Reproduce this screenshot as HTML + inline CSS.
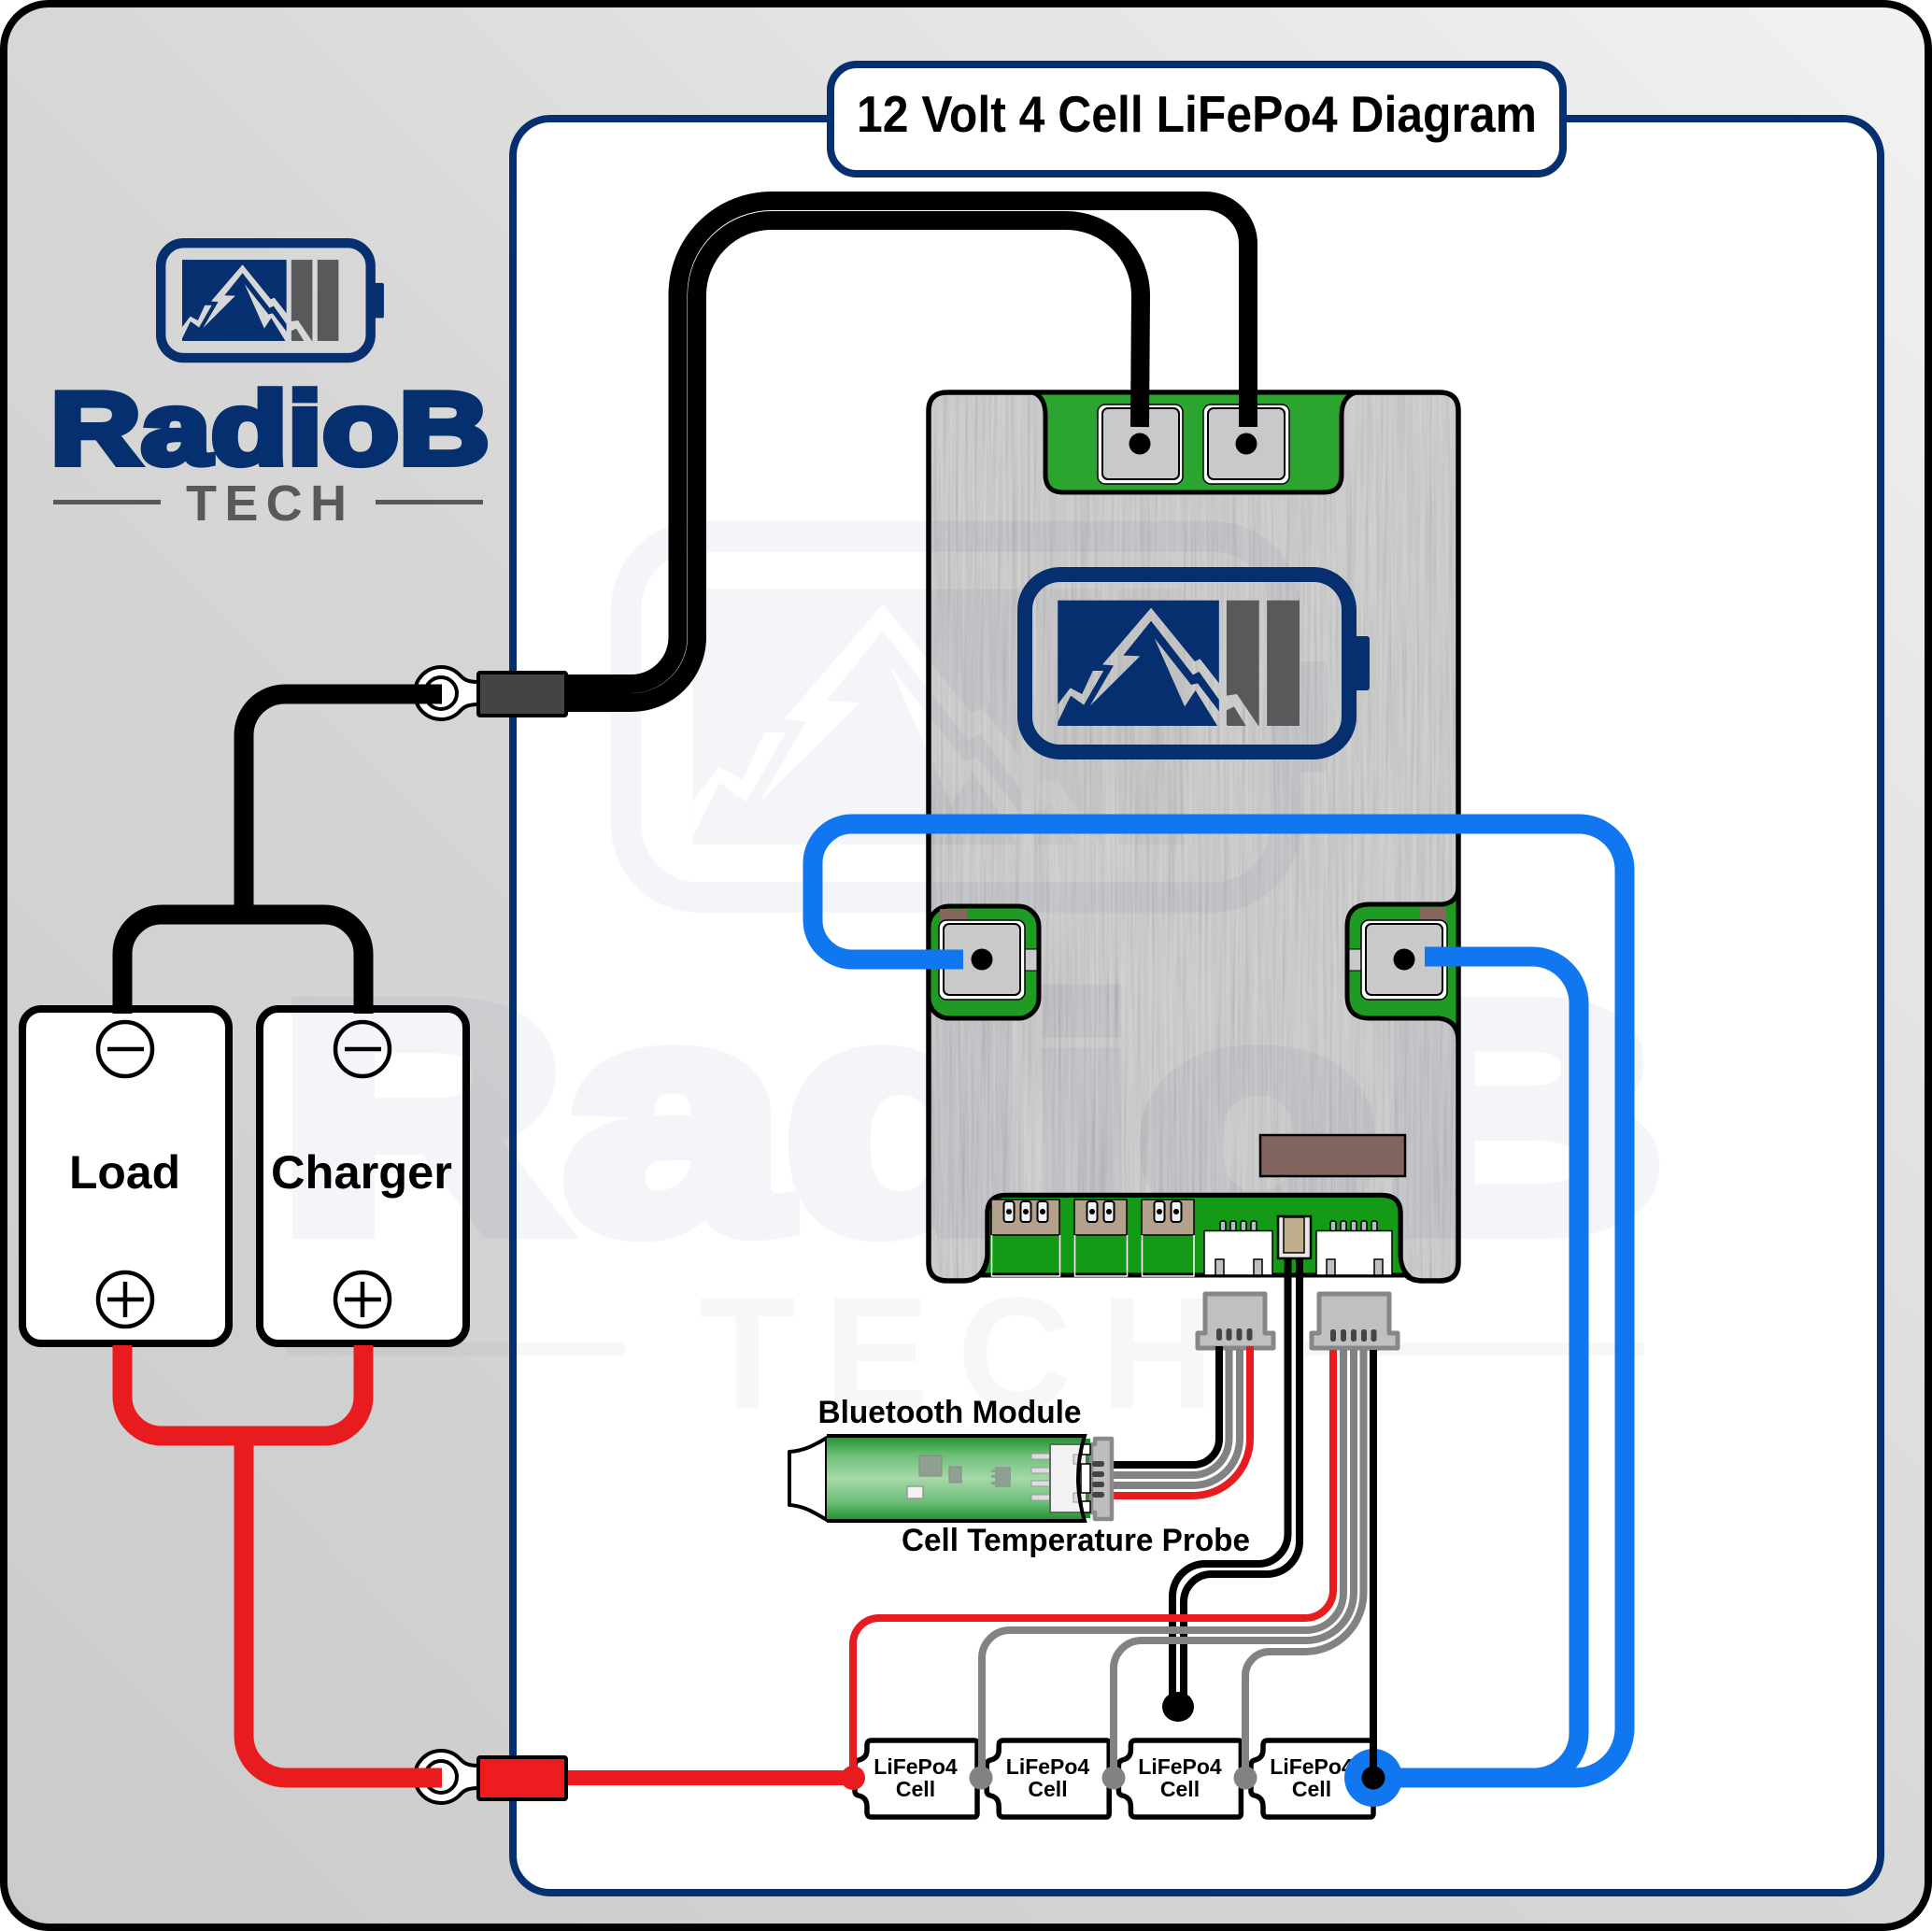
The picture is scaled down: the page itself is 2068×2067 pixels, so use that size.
<!DOCTYPE html>
<html><head><meta charset="utf-8"><title>12 Volt 4 Cell LiFePo4 Diagram</title>
<style>
html,body{margin:0;padding:0;background:#fff}
svg{display:block}
text{font-family:"Liberation Sans",sans-serif;font-weight:bold;fill:#000}
</style></head><body>
<svg xmlns="http://www.w3.org/2000/svg" width="2068" height="2067" viewBox="0 0 2068 2067">
<defs>
<linearGradient id="bg" gradientUnits="userSpaceOnUse" x1="0" y1="2067" x2="2068" y2="0"><stop offset="0" stop-color="#cbcbcb"/><stop offset=".5" stop-color="#d7d7d7"/><stop offset="1" stop-color="#f2f2f2"/></linearGradient>
<linearGradient id="bt" x1="0" y1="0" x2="0" y2="1"><stop offset="0" stop-color="#1c8f2a"/><stop offset=".22" stop-color="#6dbd77"/><stop offset=".5" stop-color="#a6d9a9"/><stop offset=".78" stop-color="#6dbd77"/><stop offset="1" stop-color="#1c8f2a"/></linearGradient>
<filter id="brush" x="0" y="0" width="1" height="1"><feTurbulence type="fractalNoise" baseFrequency="0.3 0.006" numOctaves="3" seed="4"/><feColorMatrix values="1.6 0 0 0 -.2 1.6 0 0 0 -.2 1.6 0 0 0 -.2 0 0 0 0 .13"/></filter>
<clipPath id="bodyclip"><path d="M1014,420H1541Q1561,420 1561,440V1351Q1561,1371 1541,1371H1523Q1501,1371 1499,1350V1299Q1499,1279.500 1479,1279.500H1077Q1057,1279.500 1057,1299V1345Q1053,1371 1031,1371H1014Q994,1371 994,1351V440Q994,420 1014,420Z"/></clipPath>
<mask id="cut" maskUnits="userSpaceOnUse" x="-10" y="-10" width="400" height="230">
<rect x="-10" y="-10" width="400" height="230" fill="#fff"/>
<g transform="scale(.3827,.3333) translate(-284,-622)" fill="#000">
<polygon points="658,753 780,925 795,917 848,995 869,1035 898,1030 960,1135 925,1135 890,1070 869,1082 848,1048 792,958 775,968 658,795 580,906 627,908 487,1068 553,938 522,935"/>
<polygon points="667,850 770,1000 788,995 848,1085 873,1135 845,1135 782,1018 752,1070"/>
<polygon points="397,1063 432,1010 465,1030 495,955 525,955 470,1065 433,1035 397,1120"/>
</g></mask>
<g id="mark">
<rect x="8" y="8" width="347" height="190" rx="38" fill="none" stroke="#052f6f" stroke-width="16"/>
<rect x="358" y="74" width="19" height="58" rx="3" fill="#052f6f"/>
<g mask="url(#cut)"><g transform="scale(.3827,.3333) translate(-284,-622)">
<rect x="397" y="729" width="451" height="403" fill="#052f6f"/>
<rect x="869" y="729" width="91" height="403" fill="#58595b"/>
<rect x="982" y="729" width="91" height="403" fill="#58595b"/>
</g></g>
</g>
<path id="cell" d="M933,1863H1043Q1046,1863 1046,1866V1941Q1046,1945 1043,1945H933Q928,1945 928,1940V1934Q928,1924 919,1922Q915,1921 915,1917V1890Q915,1885 919,1884Q928,1882 928,1873V1868Q928,1863 933,1863Z" fill="#fff" stroke="#000" stroke-width="5.500" stroke-linejoin="round"/>
</defs>

<rect width="2068" height="2067" fill="#fff"/>
<rect x="4" y="4" width="2060" height="2059" rx="48" fill="url(#bg)" stroke="#000" stroke-width="8"/>
<rect x="549" y="127" width="1464" height="1899" rx="40" fill="#fff" stroke="#052f6f" stroke-width="8"/>

<!-- load / charger boxes -->
<rect x="24" y="1080" width="221" height="358" rx="20" fill="#fff" stroke="#000" stroke-width="8"/>
<rect x="278" y="1080" width="221" height="358" rx="20" fill="#fff" stroke="#000" stroke-width="8"/>

<!-- BMS body -->
<g clip-path="url(#bodyclip)"><rect x="990" y="415" width="575" height="960" fill="#c9c9c9"/><rect x="990" y="415" width="575" height="960" filter="url(#brush)"/></g>
<path d="M1014,420H1541Q1561,420 1561,440V1351Q1561,1371 1541,1371H1523Q1501,1371 1499,1350V1299Q1499,1279.500 1479,1279.500H1077Q1057,1279.500 1057,1299V1345Q1053,1371 1031,1371H1014Q994,1371 994,1351V440Q994,420 1014,420Z" fill="none" stroke="#000" stroke-width="5.500"/>

<!-- watermark -->
<g opacity=".05">
<use href="#mark" transform="translate(654,558) scale(2.033)"/>
<text x="298" y="1315" font-size="345" textLength="1484" lengthAdjust="spacingAndGlyphs" style="fill:#052f6f;stroke:#052f6f;stroke-width:22">RadioB</text>
<rect x="306" y="1437" width="363" height="14" fill="#58595b"/><rect x="1397" y="1437" width="363" height="14" fill="#58595b"/>
<text x="748" y="1507" font-size="170" textLength="552" style="fill:#58595b">TECH</text>
</g>

<!-- corner logo -->
<use href="#mark" transform="translate(167,255) scale(.647)"/>
<text x="54" y="496.500" font-size="110" textLength="470" lengthAdjust="spacingAndGlyphs" style="fill:#052f6f;stroke:#052f6f;stroke-width:7">RadioB</text>
<rect x="57" y="535" width="115" height="5" fill="#58595b"/><rect x="402" y="535" width="115" height="5" fill="#58595b"/>
<text x="199" y="557" font-size="54" textLength="172" style="fill:#58595b">TECH</text>

<!-- BMS logo -->
<use href="#mark" transform="translate(1089,607)"/>

<!-- top green area -->
<path d="M1105,420Q1119,424 1119,445V508Q1119,527 1138,527H1417Q1436,527 1436,508V445Q1436,424 1452,420Z" fill="#2ba52f" stroke="#000" stroke-width="5"/>
<rect x="1175" y="433" width="91" height="85" rx="8" fill="#fff" stroke="#000" stroke-width="1.500"/>
<rect x="1180" y="437" width="82" height="76" rx="6" fill="#c9c9c9" stroke="#000" stroke-width="2"/>
<rect x="1288" y="433" width="92" height="85" rx="8" fill="#fff" stroke="#000" stroke-width="1.500"/>
<rect x="1293" y="437" width="82" height="76" rx="6" fill="#c9c9c9" stroke="#000" stroke-width="2"/>
<circle cx="1220" cy="475" r="11.500"/><circle cx="1334" cy="475" r="11.500"/>

<!-- side pads -->
<rect x="994" y="970" width="118" height="120" rx="22" fill="#1f9a23" stroke="#000" stroke-width="5"/>
<path d="M1561,948Q1561,966 1544,968H1466Q1442,968 1442,992V1066Q1442,1090 1466,1090H1540Q1561,1092 1561,1115Z" fill="#1f9a23" stroke="#000" stroke-width="5"/>
<rect x="1006" y="973" width="29" height="13" fill="#86655f"/><rect x="1520" y="971" width="28" height="15" fill="#86655f"/>
<rect x="1097" y="1016" width="13" height="23" fill="#c9c9c9" stroke="#000" stroke-width="1"/>
<rect x="1444" y="1016" width="13" height="23" fill="#c9c9c9" stroke="#000" stroke-width="1"/>
<rect x="1005" y="985" width="92" height="85" rx="8" fill="#fff" stroke="#000" stroke-width="1.500"/>
<rect x="1010" y="989" width="82" height="76" rx="6" fill="#c9c9c9" stroke="#000" stroke-width="2"/>
<rect x="1457" y="985" width="92" height="85" rx="8" fill="#fff" stroke="#000" stroke-width="1.500"/>
<rect x="1462" y="989" width="82" height="76" rx="6" fill="#c9c9c9" stroke="#000" stroke-width="2"/>
<circle cx="1051" cy="1027" r="11.500"/><circle cx="1503" cy="1027" r="11.500"/>

<!-- brown block -->
<rect x="1349" y="1215" width="155" height="44" fill="#82645f" stroke="#000" stroke-width="2.500"/>

<!-- bottom green -->
<path d="M1057,1299Q1057,1279.500 1077,1279.500H1479Q1499,1279.500 1499,1299V1345Q1500,1358 1507,1365H1049Q1056,1358 1057,1345Z" fill="#149a17" stroke="#000" stroke-width="5"/>
<g fill="#b4a18d" stroke="#000" stroke-width="1.500">
<rect x="1061" y="1284" width="73" height="38"/><rect x="1150" y="1284" width="56" height="38"/><rect x="1222" y="1284" width="56" height="38"/></g>
<g fill="none" stroke="#fff" stroke-width="1.500">
<path d="M1061.500,1322V1366H1134.500V1322"/><path d="M1150.500,1322V1366H1206.500V1322"/><path d="M1222.500,1322V1366H1278V1322"/></g>
<g fill="#f3f4f8" stroke="#000" stroke-width="2">
<rect x="1074.500" y="1286" width="11" height="22" rx="3"/><rect x="1092.500" y="1286" width="11" height="22" rx="3"/><rect x="1110.500" y="1286" width="11" height="22" rx="3"/>
<rect x="1163.500" y="1286" width="11" height="22" rx="3"/><rect x="1181.500" y="1286" width="11" height="22" rx="3"/>
<rect x="1235.500" y="1286" width="11" height="22" rx="3"/><rect x="1253.500" y="1286" width="11" height="22" rx="3"/></g>
<g><circle cx="1080" cy="1297" r="3"/><circle cx="1098" cy="1297" r="3"/><circle cx="1116" cy="1297" r="3"/><circle cx="1169" cy="1297" r="3"/><circle cx="1187" cy="1297" r="3"/><circle cx="1241" cy="1297" r="3"/><circle cx="1259" cy="1297" r="3"/></g>
<g fill="#b9bcc2" stroke="#000" stroke-width="1.500">
<rect x="1306" y="1307" width="6" height="11" rx="2"/><rect x="1317" y="1307" width="6" height="11" rx="2"/><rect x="1328" y="1307" width="6" height="11" rx="2"/><rect x="1339" y="1307" width="6" height="11" rx="2"/>
<rect x="1424" y="1307" width="6" height="11" rx="2"/><rect x="1435" y="1307" width="6" height="11" rx="2"/><rect x="1446" y="1307" width="6" height="11" rx="2"/><rect x="1457" y="1307" width="6" height="11" rx="2"/><rect x="1468" y="1307" width="6" height="11" rx="2"/></g>
<rect x="1289" y="1317.500" width="73" height="47.500" fill="#fff" stroke="#000" stroke-width="1.500"/>
<rect x="1409" y="1317.500" width="81" height="47.500" fill="#fff" stroke="#000" stroke-width="1.500"/>
<g fill="#c0c0c0" stroke="#000" stroke-width="1.500">
<rect x="1301" y="1348" width="9" height="17"/><rect x="1342" y="1348" width="9" height="17"/><rect x="1420" y="1348" width="9" height="17"/><rect x="1471" y="1348" width="9" height="17"/></g>
<rect x="1368" y="1302" width="35" height="45" fill="#e8e8e8" stroke="#000" stroke-width="2.500"/>
<rect x="1374" y="1303" width="22" height="38" fill="#c0ae8c" stroke="#000" stroke-width="1.500"/>

<!-- big wires -->
<g fill="none" stroke-linejoin="round">
<g stroke="#000" stroke-width="20">
<path d="M1336,457V261A46,46 0 0 0 1290,215H826A100.500,100.500 0 0 0 725.500,316V682A50,50 0 0 1 675.500,732H600"/>
<path d="M1220,457L1221,316A80,80 0 0 0 1141,236H826A80,80 0 0 0 746,316V682A70,70 0 0 1 676,752H600"/>
</g>
<path stroke="#000" stroke-width="21" d="M473,743H305A44,44 0 0 0 261,787V985"/>
<path stroke="#000" stroke-width="21" d="M131,1085V1021A42,42 0 0 1 173,979H347A42,42 0 0 1 389,1021V1085"/>
<path stroke="#e81c1e" stroke-width="21" d="M131,1440V1495A42,42 0 0 0 173,1537H347A42,42 0 0 0 389,1495V1440"/>
<path stroke="#e81c1e" stroke-width="21" d="M261,1537V1858A45,45 0 0 0 306,1903H473"/>
<path stroke="#e81c1e" stroke-width="16" d="M600,1903H913"/>
</g>

<!-- ring terminals & connectors -->
<g stroke="#000" stroke-width="4">
<path d="M512,730C500,730 496,727 491.600,722A28,28 0 1 0 491.600,762C496,757 500,754 512,754Z" fill="#fff"/>
<path d="M512,1890C500,1890 496,1887 491.600,1882A28,28 0 1 0 491.600,1922C496,1917 500,1914 512,1914Z" fill="#fff"/>
<circle cx="472" cy="742" r="17" fill="none"/><circle cx="472" cy="1902" r="17" fill="none"/>
</g>
<path d="M440,743H473" stroke="#000" stroke-width="21"/><path d="M440,1903H473" stroke="#e81c1e" stroke-width="21"/>
<rect x="512" y="720" width="94" height="46" rx="2" fill="#444" stroke="#000" stroke-width="4"/>
<rect x="512" y="1881" width="94" height="45" rx="2" fill="#ee1c1f" stroke="#000" stroke-width="4"/>

<!-- cells -->
<use href="#cell"/><use href="#cell" x="141.200"/><use href="#cell" x="282.400"/><use href="#cell" x="424"/>
<text x="980" y="1899" text-anchor="middle" font-size="23">LiFePo4</text><text x="980" y="1923" text-anchor="middle" font-size="23">Cell</text>
<text x="1121.500" y="1899" text-anchor="middle" font-size="23">LiFePo4</text><text x="1121.500" y="1923" text-anchor="middle" font-size="23">Cell</text>
<text x="1263" y="1899" text-anchor="middle" font-size="23">LiFePo4</text><text x="1263" y="1923" text-anchor="middle" font-size="23">Cell</text>
<text x="1404" y="1899" text-anchor="middle" font-size="23">LiFePo4</text><text x="1404" y="1923" text-anchor="middle" font-size="23">Cell</text>

<!-- temperature probe wires -->
<g fill="none" stroke="#000" stroke-width="8">
<path d="M1378.500,1347V1642A32,32 0 0 1 1346.500,1674H1290A35,35 0 0 0 1255,1709V1827"/>
<path d="M1391,1347V1650A35,35 0 0 1 1356,1685H1297A30,30 0 0 0 1267,1715V1827"/>
</g>
<ellipse cx="1261" cy="1827" rx="17" ry="16"/>

<!-- balance wires -->
<g fill="none" stroke-width="8">
<path stroke="#e81c1e" d="M1427,1440V1702A30,30 0 0 1 1397,1732H941A28,28 0 0 0 913,1760V1903"/>
<path stroke="#828282" d="M1438,1440V1705A40,40 0 0 1 1398,1745H1081A30,30 0 0 0 1051,1775V1903"/>
<path stroke="#828282" d="M1449,1440V1705A51,51 0 0 1 1398,1756H1222A30,30 0 0 0 1192,1786V1903"/>
<path stroke="#828282" d="M1459.500,1440V1705A63,63 0 0 1 1396.500,1768H1359A26,26 0 0 0 1333,1794V1903"/>
</g>

<!-- blue wires -->
<g fill="none" stroke="#1077f0" stroke-width="21">
<path d="M1031,1027H912A42,42 0 0 1 870,985V924A42,42 0 0 1 912,882H1690A49,49 0 0 1 1739,931V1850A53,53 0 0 1 1686,1903H1472"/>
<path d="M1525,1024H1640A50,50 0 0 1 1690,1074V1855A48,48 0 0 1 1642,1903H1472"/>
</g>
<ellipse cx="1470" cy="1903" rx="31" ry="31" fill="#1077f0"/>
<path d="M1470,1440V1903" stroke="#000" stroke-width="8"/>
<circle cx="913" cy="1903" r="13" fill="#e81c1e"/>
<circle cx="1050" cy="1903" r="12.500" fill="#828282"/><circle cx="1192" cy="1903" r="12.500" fill="#828282"/><circle cx="1333" cy="1903" r="12.500" fill="#828282"/>
<circle cx="1470" cy="1903" r="12.500"/>

<!-- BT wires -->
<g fill="none" stroke-width="8">
<path stroke="#000" d="M1305,1440V1540A28,28 0 0 1 1277,1568H1190"/>
<path stroke="#828282" d="M1315.500,1440V1540A39,39 0 0 1 1276.500,1579H1190"/>
<path stroke="#828282" d="M1327,1440V1540A50,50 0 0 1 1277,1590H1190"/>
<path stroke="#e81c1e" d="M1338,1440V1540A61,61 0 0 1 1277,1601H1190"/>
</g>

<!-- plug housings -->
<g fill="#c0c0c0" stroke="#878787" stroke-width="5" stroke-linejoin="round">
<path d="M1290,1385H1354V1427H1363V1443H1282V1427H1290Z"/>
<path d="M1412,1385H1487V1427H1496V1443H1404V1427H1412Z"/>
</g>
<g fill="#444">
<rect x="1302" y="1422" width="6" height="13" rx="2.500"/><rect x="1312.500" y="1422" width="6" height="13" rx="2.500"/><rect x="1323.500" y="1422" width="6" height="13" rx="2.500"/><rect x="1334.500" y="1422" width="6" height="13" rx="2.500"/>
<rect x="1424" y="1423" width="6" height="13" rx="2.500"/><rect x="1435" y="1423" width="6" height="13" rx="2.500"/><rect x="1446" y="1423" width="6" height="13" rx="2.500"/><rect x="1457" y="1423" width="6" height="13" rx="2.500"/><rect x="1467.500" y="1423" width="6" height="13" rx="2.500"/>
</g>
<g stroke-width="8">
<path d="M1305,1441V1470" stroke="#000"/><path d="M1315.500,1445V1470" stroke="#828282"/><path d="M1327,1445V1470" stroke="#828282"/><path d="M1338,1441V1470" stroke="#e81c1e"/>
<path d="M1427,1445V1470" stroke="#e81c1e"/><path d="M1438,1445V1470" stroke="#828282"/><path d="M1449,1445V1470" stroke="#828282"/><path d="M1459.500,1445V1470" stroke="#828282"/><path d="M1470,1445V1470" stroke="#000"/>
</g>

<!-- Bluetooth module -->
<path d="M885,1539C870,1548 860,1553 845,1554V1611C860,1612 870,1618 885,1627Z" fill="#fff" stroke="#000" stroke-width="4" stroke-linejoin="round"/>
<path d="M885,1537H1161Q1147,1582 1161,1628H885Z" fill="url(#bt)"/>
<rect x="1161" y="1540" width="6" height="85" fill="#1c8f2a"/>
<rect x="1104" y="1556" width="20" height="6" fill="#ddd" stroke="#999"/><rect x="1104" y="1571" width="20" height="6" fill="#ddd" stroke="#999"/><rect x="1104" y="1585" width="20" height="6" fill="#ddd" stroke="#999"/><rect x="1104" y="1600" width="20" height="6" fill="#ddd" stroke="#999"/>
<rect x="984" y="1558" width="24" height="22" fill="#8f9f92" stroke="#7d8d80"/>
<rect x="1016" y="1570" width="13" height="17" fill="#8f9f92" stroke="#7d8d80"/>
<rect x="1065" y="1570" width="17" height="22" fill="#8f9f92"/>
<rect x="1061" y="1573" width="5" height="3" fill="#8f9f92"/><rect x="1061" y="1579" width="5" height="3" fill="#8f9f92"/><rect x="1061" y="1586" width="5" height="3" fill="#8f9f92"/>
<rect x="971" y="1591" width="17" height="13" fill="#f2f2f2" stroke="#8f9f92" stroke-width="1.500"/>
<path d="M1172,1540H1190V1626H1172V1619H1168V1546H1172Z" fill="#bdbdbd" stroke="#8a8a8a" stroke-width="4.500" stroke-linejoin="round"/>
<rect x="1124" y="1546" width="39" height="73" fill="#f2f2f2" stroke="#666" stroke-width="2"/>
<rect x="1149" y="1557" width="6" height="10" fill="#ddd" stroke="#999"/><rect x="1149" y="1598" width="6" height="10" fill="#ddd" stroke="#999"/>
<rect x="1158" y="1546" width="9" height="11" fill="#fff" stroke="#000" stroke-width="1.500"/>
<rect x="1157" y="1567" width="10" height="31" fill="#fff" stroke="#000" stroke-width="1.500"/>
<rect x="1158" y="1607" width="9" height="12" fill="#fff" stroke="#000" stroke-width="1.500"/>
<path d="M885,1537H1161Q1147,1582 1161,1628H885" fill="none" stroke="#000" stroke-width="4"/>
<g fill="#444"><rect x="1169" y="1564" width="13" height="6" rx="2.500"/><rect x="1169" y="1575" width="13" height="6" rx="2.500"/><rect x="1169" y="1586" width="13" height="6" rx="2.500"/><rect x="1169" y="1597" width="13" height="6" rx="2.500"/></g>

<!-- labels -->
<text x="875.500" y="1523" font-size="34" textLength="282" lengthAdjust="spacingAndGlyphs">Bluetooth Module</text>
<text x="965" y="1660" font-size="34" textLength="373" lengthAdjust="spacingAndGlyphs">Cell Temperature Probe</text>
<text x="74" y="1272" font-size="50" textLength="119" lengthAdjust="spacingAndGlyphs">Load</text>
<text x="290" y="1272" font-size="50" textLength="194" lengthAdjust="spacingAndGlyphs">Charger</text>

<!-- polarity symbols -->
<g fill="none" stroke="#000" stroke-width="4.500">
<circle cx="134" cy="1123" r="29"/><circle cx="388" cy="1123" r="29"/>
<circle cx="134" cy="1391" r="29"/><circle cx="388" cy="1391" r="29"/>
<path d="M115,1123H154M369,1123H408M115,1391H154M369,1391H408M134,1372V1410M388,1372V1410"/>
</g>

<!-- title -->
<rect x="889" y="69" width="784" height="117" rx="28" fill="#fff" stroke="#052f6f" stroke-width="8"/>
<text x="917" y="141" font-size="55" textLength="728" lengthAdjust="spacingAndGlyphs">12 Volt 4 Cell LiFePo4 Diagram</text>
</svg>
</body></html>
